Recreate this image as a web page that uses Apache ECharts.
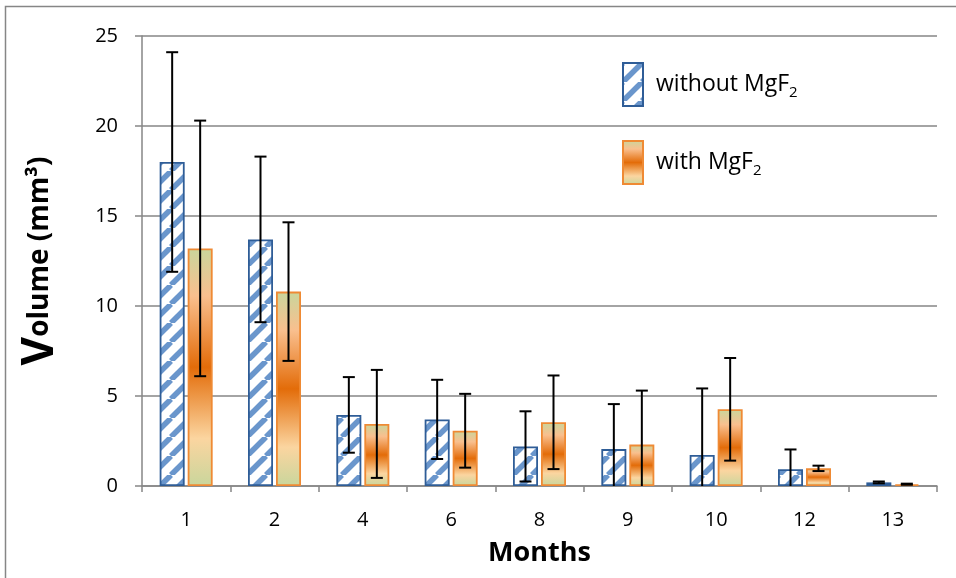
<!DOCTYPE html>
<html>
<head>
<meta charset="utf-8">
<script src="https://cdn.jsdelivr.net/npm/echarts@6/dist/echarts.min.js"></script>
<style>
html,body{margin:0;padding:0;background:#fff;}
#chart{width:956px;height:578px;}
</style>
</head>
<body>
<div id="chart"></div>
<script>
// ---- data ----
var months = ['1', '2', '4', '6', '8', '9', '10', '12', '13'];
var withoutValues = [18.0, 13.7, 3.95, 3.7, 2.2, 2.05, 1.72, 0.93, 0.2];
var withValues = [13.2, 10.8, 3.45, 3.07, 3.54, 2.3, 4.26, 0.98, 0.1];
var withoutErr = [6.1, 4.6, 2.1, 2.2, 1.95, 2.5, 3.7, 1.1, 0.05];
var withErr = [7.1, 3.85, 3.0, 2.05, 2.6, 3.0, 2.85, 0.15, 0.03];
var yTicks = [0, 5, 10, 15, 20, 25];
var seriesNames = ['without MgF2', 'with MgF2'];

// ---- styles ----
var FONT = 'Open Sans';
var BAR_W = 25;
var BAR_GAP = 3;
var GRAY = '#868686';

function stripePattern() {
  var P = 19;
  var c = document.createElement('canvas');
  c.width = P; c.height = P;
  var ctx = c.getContext('2d');
  ctx.fillStyle = '#ffffff';
  ctx.fillRect(0, 0, P, P);
  ctx.strokeStyle = '#6a96cc';
  ctx.lineWidth = 5.5;
  for (var k = -1; k <= 1; k++) {
    ctx.beginPath();
    ctx.moveTo(k * P, P);
    ctx.lineTo(k * P + P, 0);
    ctx.stroke();
  }
  return c;
}

var orangeGrad = new echarts.graphic.LinearGradient(0, 0, 0, 1, [
  {offset: 0, color: '#c9d69c'},
  {offset: 0.2, color: '#f9bf8e'},
  {offset: 0.5, color: '#e36c09'},
  {offset: 0.8, color: '#fbd5a0'},
  {offset: 1, color: '#c9d69c'}
]);

function errData(vals, errs) {
  return vals.map(function (v, i) {
    return [i, Math.max(0, v - errs[i]), v + errs[i], v - errs[i] > 0 ? 1 : 0];
  });
}

function errSeries(vals, errs, offset) {
  return {
    type: 'custom',
    z: 10,
    silent: true,
    data: errData(vals, errs),
    encode: {x: 0, y: [1, 2]},
    renderItem: function (params, api) {
      var idx = api.value(0);
      var lo = api.coord([idx, api.value(1)]);
      var hi = api.coord([idx, api.value(2)]);
      var x = lo[0] + offset;
      var cap = 6;
      var st = {stroke: '#000', lineWidth: 2};
      var children = [
        {type: 'line', shape: {x1: x, y1: lo[1], x2: x, y2: hi[1]}, style: st},
        {type: 'line', shape: {x1: x - cap, y1: hi[1], x2: x + cap, y2: hi[1]}, style: st}
      ];
      if (api.value(3)) {
        children.push({type: 'line', shape: {x1: x - cap, y1: lo[1], x2: x + cap, y2: lo[1]}, style: st});
      }
      return {type: 'group', children: children};
    }
  };
}

var chart = echarts.init(document.getElementById('chart'), null, {renderer: 'canvas'});
var off = (BAR_W + BAR_GAP) / 2;

chart.setOption({
  animation: false,
  backgroundColor: '#fff',
  graphic: [{
    type: 'rect',
    shape: {x: 5.5, y: 6.5, width: 1000, height: 700},
    style: {fill: 'none', stroke: GRAY, lineWidth: 1.5},
    silent: true
  }],
  grid: {left: 142, right: 19, top: 36, bottom: 92},
  legend: {
    orient: 'vertical',
    left: 617,
    top: 57,
    itemWidth: 20,
    itemHeight: 43,
    itemGap: 33,
    icon: 'rect',
    data: seriesNames,
    formatter: function (name) {
      return '{a|' + name.replace(/2$/, '') + '}{s|2}';
    },
    textStyle: {
      padding: [0, 0, 0, 8],
      rich: {
        a: {fontSize: 23, fontFamily: FONT, color: '#000', lineHeight: 32},
        s: {fontSize: 15, fontFamily: FONT, color: '#000', lineHeight: 15, verticalAlign: 'bottom'}
      }
    }
  },
  xAxis: {
    type: 'category',
    data: months,
    axisLine: {lineStyle: {color: GRAY, width: 1.5}},
    axisTick: {show: true, length: 6, lineStyle: {color: GRAY, width: 1.5}},
    axisLabel: {fontSize: 20, fontFamily: FONT, color: '#000', margin: 24},
    name: 'Months',
    nameLocation: 'middle',
    nameGap: 54,
    nameTextStyle: {fontSize: 27, fontWeight: 'bold', fontFamily: FONT, color: '#000'}
  },
  yAxis: {
    type: 'value',
    min: yTicks[0],
    max: yTicks[yTicks.length - 1],
    interval: yTicks[1] - yTicks[0],
    axisLine: {show: true, lineStyle: {color: GRAY, width: 1.5}},
    axisTick: {show: true, length: 7, lineStyle: {color: GRAY, width: 1.5}},
    splitLine: {show: true, lineStyle: {color: GRAY, width: 1.5}},
    axisLabel: {fontSize: 20, fontFamily: FONT, color: '#000', margin: 24},
    name: '{v|V}{o|olume (mm³)}',
    nameLocation: 'middle',
    nameRotate: 90,
    nameGap: 80,
    nameTextStyle: {
      rich: {
        v: {fontSize: 44, fontWeight: 'bold', fontFamily: FONT, color: '#000'},
        o: {fontSize: 28, fontWeight: 'bold', fontFamily: FONT, color: '#000'}
      }
    }
  },
  series: [
    {
      name: seriesNames[0],
      type: 'bar',
      barWidth: BAR_W,
      barGap: (BAR_GAP / BAR_W * 100) + '%',
      data: withoutValues,
      itemStyle: {
        color: {image: stripePattern(), repeat: 'repeat'},
        borderColor: '#2f5d97',
        borderWidth: 1.8
      }
    },
    {
      name: seriesNames[1],
      type: 'bar',
      barWidth: BAR_W,
      data: withValues,
      itemStyle: {
        color: orangeGrad,
        borderColor: '#ef8a34',
        borderWidth: 1.8
      }
    },
    errSeries(withoutValues, withoutErr, -off),
    errSeries(withValues, withErr, off)
  ]
});
</script>
</body>
</html>
